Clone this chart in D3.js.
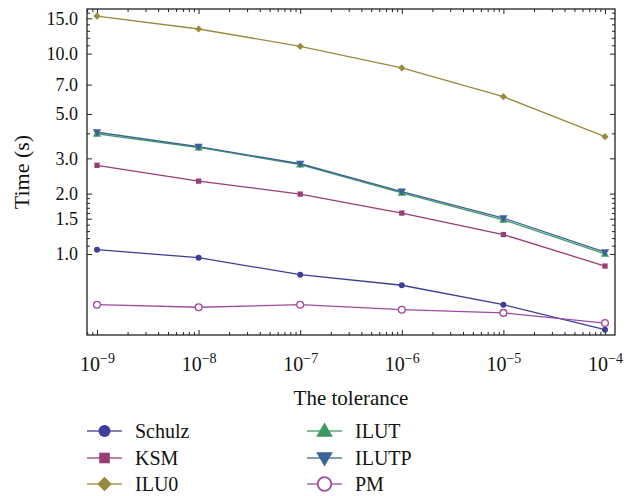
<!DOCTYPE html>
<html>
<head>
<meta charset="utf-8">
<script src="https://cdn.jsdelivr.net/npm/d3@7"></script>
<style>
  body { margin: 0; background: #fff; }
  text { font-family: "Liberation Serif", "DejaVu Serif", serif; fill: #111; }
</style>
</head>
<body>
<svg width="637" height="496"></svg>
<script>
// Data
var tolerance = [1e-9, 1e-8, 1e-7, 1e-6, 1e-5, 1e-4];
var schulz = [1.05, 0.958, 0.788, 0.698, 0.558, 0.419];
var ksm    = [2.77, 2.31, 1.99, 1.60, 1.25, 0.87];
var ilu0   = [15.4, 13.27, 10.88, 8.48, 6.10, 3.85];
var ilut   = [3.98, 3.40, 2.79, 2.02, 1.48, 1.00];
var ilutp  = [4.05, 3.43, 2.82, 2.05, 1.51, 1.02];
var pm     = [0.558, 0.542, 0.558, 0.527, 0.508, 0.452];

var yMajor = [1.0, 1.5, 2.0, 3.0, 5.0, 7.0, 10.0, 15.0];
var yMinor = [1.1, 1.2, 1.3, 1.4, 1.6, 1.7, 1.8, 1.9, 4, 11, 12, 13, 14, 16];

var seriesNames = ["Schulz", "KSM", "ILU0", "ILUT", "ILUTP", "PM"];
var seriesValues = [schulz, ksm, ilu0, ilut, ilutp, pm];

var colors = ["#3e3d99", "#993d74", "#998a3d", "#3d9962", "#3d6299", "#a04aa0"];
var shapes = ["circle", "square", "diamond", "up", "down", "open"];

var svg = d3.select("svg");
var plotL = 87, plotR = 615, plotT = 9, plotB = 335;

var x = d3.scaleLog()
    .domain([Math.pow(10, -9.0984), Math.pow(10, -3.9016)])
    .range([plotL, plotR]);
var y = d3.scaleLog()
    .domain([0.394, 16.7])
    .range([plotB, plotT]);

// minor ticks on x: 2..9 per decade
var xMinor = x.ticks().filter(function (d) {
    return Math.abs(Math.log10(d) - Math.round(Math.log10(d))) > 1e-6;
});

var g = svg.append("g");

// frame
g.append("rect")
    .attr("x", plotL).attr("y", plotT)
    .attr("width", plotR - plotL).attr("height", plotB - plotT)
    .attr("fill", "none").attr("stroke", "#222").attr("stroke-width", 1.3);

function tickAxis(axisFn, scale, vals, size, pos, isX, labels) {
    var ax = axisFn(scale).tickValues(vals).tickSizeInner(-size).tickSizeOuter(0).tickPadding(9);
    if (!labels) ax.tickFormat("");
    var sel = g.append("g")
        .attr("transform", isX ? "translate(0," + pos + ")" : "translate(" + pos + ",0)")
        .call(ax);
    sel.select(".domain").remove();
    sel.selectAll("line").attr("stroke", "#222").attr("stroke-width", 1);
    return sel;
}

// x ticks (bottom with labels, top mirrored)
var xb = tickAxis(d3.axisBottom, x, tolerance, 5, plotB, true, true);
tickAxis(d3.axisBottom, x, xMinor, 3, plotB, true, false);
tickAxis(d3.axisTop, x, tolerance, 5, plotT, true, false);
tickAxis(d3.axisTop, x, xMinor, 3, plotT, true, false);

xb.selectAll("text")
    .attr("dy", null).attr("y", 36)
    .style("font-size", "20px")
    .text(null)
    .each(function (d) {
        var t = d3.select(this);
        t.append("tspan").text("10");
        t.append("tspan").attr("dy", -8).style("font-size", "14px")
            .text("\u2212" + Math.abs(Math.round(Math.log10(d))));
    });

// y ticks (left with labels, right mirrored)
var yl = tickAxis(d3.axisLeft, y, yMajor, 5, plotL, false, true);
yl.selectAll("text").style("font-size", "18px")
    .text(function (d) { return d3.format(".1f")(d); });
tickAxis(d3.axisLeft, y, yMinor, 3, plotL, false, false);
tickAxis(d3.axisRight, y, yMajor, 5, plotR, false, false);
tickAxis(d3.axisRight, y, yMinor, 3, plotR, false, false);

// axis titles
svg.append("text")
    .attr("x", (plotL + plotR) / 2).attr("y", 405)
    .attr("text-anchor", "middle").style("font-size", "21px")
    .text("The tolerance");
svg.append("text")
    .attr("transform", "translate(29," + ((plotT + plotB) / 2) + ") rotate(-90)")
    .attr("text-anchor", "middle").style("font-size", "22px")
    .text("Time (s)");

function drawMarker(sel, shape, color, k) {
    if (shape == "circle") {
        sel.append("circle").attr("r", 3 * k).attr("fill", color);
    } else if (shape == "open") {
        sel.append("circle").attr("r", 3.4 * k).attr("fill", "#fff")
            .attr("stroke", color).attr("stroke-width", 1.3 * Math.sqrt(k));
    } else if (shape == "square") {
        sel.append("path").attr("d", d3.symbol(d3.symbolSquare, 28 * k * k)).attr("fill", color);
    } else if (shape == "diamond") {
        sel.append("path").attr("d", d3.symbol(d3.symbolSquare, 26 * k * k))
            .attr("transform", "rotate(45)").attr("fill", color);
    } else if (shape == "up") {
        sel.append("path").attr("d", d3.symbol(d3.symbolTriangle, 30 * k * k))
            .attr("transform", "translate(0," + (0.5 * k) + ")").attr("fill", color);
    } else if (shape == "down") {
        sel.append("path").attr("d", d3.symbol(d3.symbolTriangle, 30 * k * k))
            .attr("transform", "translate(0," + (-0.5 * k) + ") rotate(180)").attr("fill", color);
    }
}

var line = d3.line()
    .x(function (d, i) { return x(tolerance[i]); })
    .y(function (d) { return y(d); });

var plot = svg.append("g");
seriesValues.forEach(function (vals, si) {
    plot.append("path")
        .datum(vals)
        .attr("d", line)
        .attr("fill", "none")
        .attr("stroke", colors[si])
        .attr("stroke-width", 1.3);
});
seriesValues.forEach(function (vals, si) {
    vals.forEach(function (v, i) {
        var m = plot.append("g").attr("transform", "translate(" + x(tolerance[i]) + "," + y(v) + ")");
        drawMarker(m, shapes[si], colors[si], 1);
    });
});

// legend
var legendX = [87, 307];
var legendY = [431, 458, 484];
seriesNames.forEach(function (name, i) {
    var col = Math.floor(i / 3), row = i % 3;
    var lg = svg.append("g").attr("transform", "translate(" + legendX[col] + "," + legendY[row] + ")");
    lg.append("line").attr("x1", 0).attr("x2", 35).attr("y1", 0).attr("y2", 0)
        .attr("stroke", colors[i]).attr("stroke-width", 1.3).attr("opacity", 0.85);
    var m = lg.append("g").attr("transform", "translate(17.5,0)");
    drawMarker(m, shapes[i], colors[i], 2);
    lg.append("text").attr("x", 48).attr("y", 7)
        .style("font-size", "20px").text(name);
});
</script>
</body>
</html>
